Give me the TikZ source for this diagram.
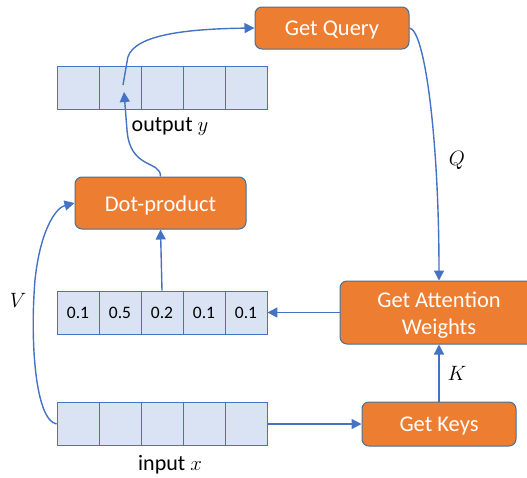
\documentclass[tikz,border=0pt]{standalone}
\usepackage{fontspec}
\setmainfont{Carlito}
\usetikzlibrary{arrows.meta}
\definecolor{orng}{HTML}{ED7D31}
\definecolor{bord}{HTML}{41719C}
\definecolor{cellfill}{HTML}{DAE3F3}
\definecolor{blu}{HTML}{4472C4}
\newcommand{\lowr}[1]{\raisebox{-2.5pt}[\height][\depth]{#1}}
\begin{document}
\begin{tikzpicture}[x=1pt,y=-1pt,
  proc/.style={rectangle, rounded corners=7pt, fill=orng, draw=bord, line width=1pt,
    text=white, font=\fontsize{22.5}{27}\selectfont, inner sep=0pt, align=center},
  cell/.style={rectangle, draw=blu, fill=cellfill, line width=0.9pt, minimum width=42pt,
    minimum height=43pt, inner sep=0pt, font=\fontsize{17.5}{20}\selectfont},
  arr/.style={draw=blu, line width=1.4pt, -{Triangle[length=10pt,width=10pt]}},
  lbl/.style={font=\fontsize{22}{26}\selectfont, inner sep=0pt}]
\useasboundingbox (0,0) rectangle (527,477);
% process boxes
\node[proc, minimum width=154pt, minimum height=42pt] (gq) at (332,28) {\lowr{Get Query}};
\node[proc, minimum width=171pt, minimum height=52pt] (dp) at (160.5,203) {\lowr{Dot-product}};
\node[proc, minimum width=198pt, minimum height=63pt] (ga) at (439,312.5) {\lowr{Get Attention}\\\lowr{Weights}};
\node[proc, minimum width=154pt, minimum height=44pt] (gk) at (439,424) {\lowr{Get Keys}};
% arrays
\foreach \i in {1,...,5} {
  \node[cell] (o\i) at (36+42*\i,87.5) {};
}
\foreach \i/\v in {1/0.1,2/0.5,3/0.2,4/0.1,5/0.1} {
  \node[cell] (w\i) at (36+42*\i,312.5) {\v};
}
\foreach \i in {1,...,5} {
  \node[cell] (in\i) at (36+42*\i,424) {};
}
\node[lbl] (ly) at (170,127) {output $y$};
\node[lbl] (lx) at (170,465) {input $x$};
% connectors
\draw[arr] (in5.east) -- (gk.west);
\draw[arr] (gk.north) -- node[right=8pt, lbl] (lk) {$K$} (ga.south);
\draw[arr] (ga.west) -- (w5.east);
\draw[arr] (w3.north) -- (dp.south);
\coordinate (oend) at (124,92);
\coordinate (ostart) at (123,85);
\draw[arr] (dp.north) .. controls (161,160) and (130,170) .. (127,130) -- (oend);
\draw[arr] (ostart) -- (127,62) .. controls (128,36) and (180,29) .. (gq.west);
\draw[arr] (gq.east) .. controls (425,30) and (439,140) .. (ga.north);
\node[lbl] (lq) at (457,160) {$Q$};
\draw[arr] (in1.west) .. controls (35,420) and (30,340) .. (35,280) .. controls (40,232) and (55,208) .. (dp.west);
\node[lbl] (lv) at (18,300) {$V$};
\end{tikzpicture}
\end{document}
